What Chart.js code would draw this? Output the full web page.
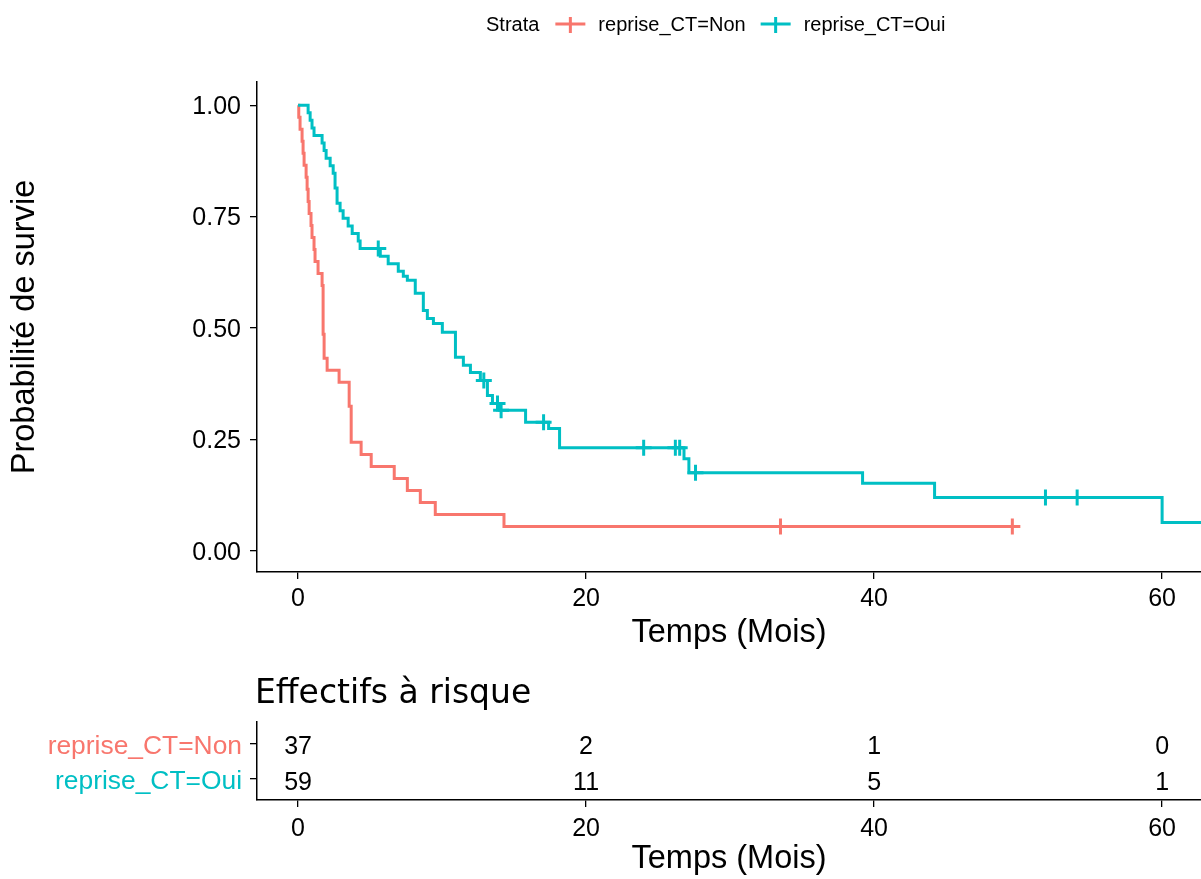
<!DOCTYPE html>
<html>
<head>
<meta charset="utf-8">
<script src="https://cdn.jsdelivr.net/npm/chart.js@4"></script>
<style>
  body { margin: 0; background: #fff; }
  canvas { position: absolute; left: 0; }
  #survChart { top: 0; }
  #riskChart { top: 660px; }
</style>
</head>
<body>
<canvas id="survChart" width="1201" height="660"></canvas>
<canvas id="riskChart" width="1201" height="219"></canvas>
<script>
const strata = ['reprise_CT=Non', 'reprise_CT=Oui']
const xTicks = [0, 20, 40, 60]
const yTicks = [0, 0.25, 0.5, 0.75, 1]

// reprise_CT=Non : event times (months) and survival after each step
const nonTime = [0.05, 0.14, 0.28, 0.35, 0.42, 0.56, 0.63, 0.70, 0.77, 0.90, 0.97, 1.11, 1.18, 1.39, 1.67,
  1.74, 1.81, 2.02, 2.85, 3.55, 3.69, 4.38, 5.08, 6.68, 7.59, 8.49, 9.53, 14.30]
const nonSurv = [0.973, 0.946, 0.919, 0.892, 0.865, 0.838, 0.811, 0.784, 0.757, 0.730, 0.703, 0.676, 0.649, 0.622, 0.595,
  0.486, 0.432, 0.405, 0.378, 0.324, 0.243, 0.216, 0.189, 0.162, 0.135, 0.108, 0.081, 0.054]
const nonCensorTime = [33.5, 49.6]
const nonCensorSurv = [0.054, 0.054]
const nonEnd = 49.6

// reprise_CT=Oui
const ouiTime = [0.70, 0.84, 0.97, 1.11, 1.67, 1.81, 1.95, 2.23, 2.44, 2.57, 2.71, 2.92, 3.13, 3.48, 3.76, 4.18, 4.31,
  5.71, 6.26, 6.96, 7.31, 7.59, 8.14, 8.70, 8.98, 9.40, 10.02, 10.93, 11.48, 11.97, 12.66, 13.15, 13.50, 14.00,
  15.80, 17.40, 18.16, 26.80, 27.14, 39.20, 44.20, 60.00]
const ouiSurv = [0.983, 0.966, 0.949, 0.932, 0.915, 0.898, 0.881, 0.864, 0.847, 0.814, 0.780, 0.763, 0.746, 0.729, 0.712, 0.695, 0.678,
  0.661, 0.644, 0.627, 0.616, 0.607, 0.578, 0.539, 0.521, 0.510, 0.490, 0.434, 0.416, 0.400, 0.382, 0.348, 0.330, 0.315,
  0.288, 0.274, 0.231, 0.206, 0.175, 0.151, 0.119, 0.063]
const ouiCensorTime = [5.57, 12.9, 13.85, 14.1, 17.05, 24.0, 26.2, 26.5, 27.6, 51.9, 54.1]
const ouiCensorSurv = [0.678, 0.382, 0.330, 0.315, 0.288, 0.231, 0.231, 0.231, 0.175, 0.119, 0.119]
const ouiEnd = 64

// number at risk
const riskTimes = [0, 20, 40, 60]
const riskNon = [37, 2, 1, 0]
const riskOui = [59, 11, 5, 1]

const RED = '#F8766D'
const CYAN = '#00BFC4'
const FONT = "'Liberation Sans', Arial, sans-serif"

const stepPoints = (times, surv, end) => {
  const pts = [{x: 0, y: 1}]
  times.forEach((t, i) => pts.push({x: t, y: surv[i]}))
  pts.push({x: end, y: surv[surv.length - 1]})
  return pts
}
const pairs = (times, vals) => times.map((t, i) => ({x: t, y: vals[i]}))

const axisCommon = {
  border: {display: true, color: '#000', width: 1.5},
  grid: {display: true, drawOnChartArea: false, drawTicks: true, tickLength: 7, color: '#000', lineWidth: 1.3},
}

// legend on top, drawn by hand (ggplot style)
const legendPlugin = {
  id: 'strataLegend',
  afterDraw(chart) {
    const ctx = chart.ctx
    const y = 25
    ctx.save()
    ctx.font = '20px ' + FONT
    ctx.textBaseline = 'middle'
    ctx.fillStyle = '#000'
    let x = 486
    ctx.fillText('Strata', x, y)
    x += ctx.measureText('Strata').width + 16
    ;[RED, CYAN].forEach((c, i) => {
      ctx.strokeStyle = c
      ctx.lineWidth = 3
      ctx.beginPath()
      ctx.moveTo(x, y - 1); ctx.lineTo(x + 30, y - 1)
      ctx.moveTo(x + 15, y - 8); ctx.lineTo(x + 15, y + 8)
      ctx.stroke()
      x += 43
      ctx.fillStyle = '#000'
      ctx.fillText(strata[i], x, y)
      x += ctx.measureText(strata[i]).width + 15
    })
    ctx.restore()
  }
}

new Chart(document.getElementById('survChart'), {
  type: 'scatter',
  data: {
    datasets: [{
      data: stepPoints(ouiTime, ouiSurv, ouiEnd),
      showLine: true, stepped: 'before', borderColor: CYAN, borderWidth: 3, pointRadius: 0,
    }, {
      data: pairs(ouiCensorTime, ouiCensorSurv),
      pointStyle: 'cross', pointRadius: 8, borderColor: CYAN, borderWidth: 3,
    }, {
      data: stepPoints(nonTime, nonSurv, nonEnd),
      showLine: true, stepped: 'before', borderColor: RED, borderWidth: 3, pointRadius: 0,
    }, {
      data: pairs(nonCensorTime, nonCensorSurv),
      pointStyle: 'cross', pointRadius: 8, borderColor: RED, borderWidth: 3,
    }]
  },
  options: {
    responsive: false,
    animation: false,
    layout: {autoPadding: false, padding: {top: 82, left: 0, right: 0, bottom: 0}},
    plugins: {legend: {display: false}, tooltip: {enabled: false}},
    scales: {
      x: {
        ...axisCommon,
        min: -2.85, max: 62.7,
        afterBuildTicks: s => { s.ticks = xTicks.map(v => ({value: v})) },
        afterFit: s => { s.height = 88 },
        ticks: {font: {size: 25, family: FONT}, color: '#000', padding: 5, maxRotation: 0},
        title: {display: true, text: 'Temps (Mois)', font: {size: 32.5, family: FONT}, color: '#000', padding: {top: 0, bottom: 7}},
      },
      y: {
        ...axisCommon,
        min: -0.048, max: 1.052,
        afterBuildTicks: s => { s.ticks = yTicks.map(v => ({value: v})) },
        afterFit: s => { s.width = 257 },
        ticks: {font: {size: 25, family: FONT}, color: '#000', padding: 9, labelOffset: 2, callback: v => v.toFixed(2)},
        title: {display: true, text: 'Probabilité de survie', font: {size: 32.5, family: FONT}, color: '#000', padding: {top: 6, bottom: 0}},
      }
    }
  },
  plugins: [legendPlugin]
})

// risk table: numbers placed through the chart scales
const riskPlugin = {
  id: 'riskNumbers',
  afterDraw(chart) {
    const ctx = chart.ctx
    const xs = chart.scales.x, ys = chart.scales.y
    ctx.save()
    ctx.font = "33px 'DejaVu Sans', sans-serif"
    ctx.fillStyle = '#000'
    ctx.textBaseline = 'alphabetic'
    ctx.fillText('Effectifs à risque', 255, 43)
    ctx.font = '25px ' + FONT
    ctx.textAlign = 'center'
    ctx.textBaseline = 'middle'
    ;[[riskNon, 2], [riskOui, 1]].forEach(([vals, row]) => {
      vals.forEach((n, i) => ctx.fillText(String(n), xs.getPixelForValue(riskTimes[i]), ys.getPixelForValue(row) + 4))
    })
    ctx.restore()
  }
}

new Chart(document.getElementById('riskChart'), {
  type: 'scatter',
  data: {datasets: []},
  options: {
    responsive: false,
    animation: false,
    layout: {autoPadding: false, padding: {top: 62, left: 0, right: 0, bottom: 0}},
    plugins: {legend: {display: false}, tooltip: {enabled: false}},
    scales: {
      x: {
        ...axisCommon,
        min: -2.85, max: 62.7,
        afterBuildTicks: s => { s.ticks = xTicks.map(v => ({value: v})) },
        afterFit: s => { s.height = 79 },
        ticks: {font: {size: 25, family: FONT}, color: '#000', padding: 7, maxRotation: 0},
        title: {display: true, text: 'Temps (Mois)', font: {size: 32.5, family: FONT}, color: '#000', padding: {top: 0, bottom: 0}},
      },
      y: {
        ...axisCommon,
        min: 0.4, max: 2.6,
        afterBuildTicks: s => { s.ticks = [{value: 2}, {value: 1}] },
        afterFit: s => { s.width = 257 },
        ticks: {
          font: {size: 26.4, family: FONT}, padding: 8, labelOffset: 3,
          color: c => c.tick.value === 2 ? RED : CYAN,
          callback: v => v === 2 ? strata[0] : strata[1],
        },
      }
    }
  },
  plugins: [riskPlugin]
})
</script>
</body>
</html>
